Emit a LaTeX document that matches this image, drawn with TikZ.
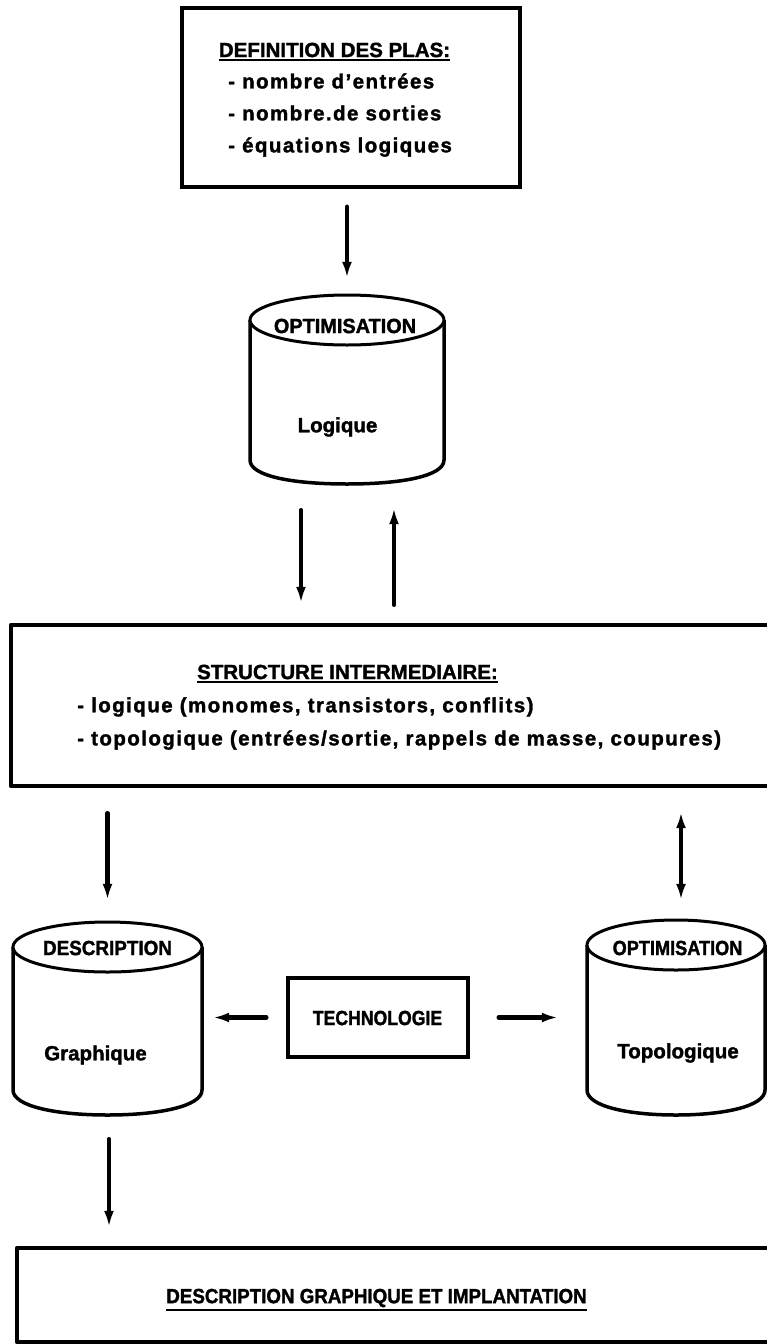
\documentclass[tikz,border=0pt]{standalone}
\usepackage{fontspec}
\setmainfont{Liberation Sans}[BoldFeatures={FakeBold=1.6}]
\newfontfamily\lsp{Liberation Sans}[LetterSpace=7,BoldFeatures={FakeBold=1.6}]
\usetikzlibrary{arrows.meta,calc}
\newcommand\hsc[2]{\scalebox{#1}[1]{#2}}
\begin{document}
\begin{tikzpicture}[x=1pt,y=-1pt,
  every node/.style={font=\fontsize{20.5}{24}\selectfont\bfseries, inner sep=0pt},
  listline/.style={anchor=west, font=\fontsize{20.5}{24}\selectfont\lsp\bfseries},
  boxst/.style={draw, line width=3.5pt},
  boxline/.style={line width=3.5pt, line join=round},
  hidden/.style={draw=none},
  cylline/.style={line width=3.5pt, line join=round},
  ellst/.style={line width=3pt, fill=white},
  uline/.style={line width=2pt},
  arr/.style={line width=4.5pt, line cap=round, -{Latex[length=16pt,width=10pt]}},
  darr/.style={line width=4.5pt, {Latex[length=16pt,width=10pt]}-{Latex[length=16pt,width=10pt]}}]
\useasboundingbox[fill=white] (0,0) rectangle (767,1344);

% ---- top box
\node[boxst, minimum width=338pt, minimum height=179pt] (top) at (351,97.5) {};
\node (t1) at (334.5,50) {DEFINITION DES PLAS:};
\draw[uline] ([yshift=-2.5pt]t1.south west) -- ([yshift=-2.5pt]t1.south east);
\node[listline] (t2) at (228,81) {- nombre d’entrées};
\node[listline] (t3) at (228,113) {- nombre.de sorties};
\node[listline] (t4) at (228,147) {- équations logiques};

% ---- cylinder 1
\node[hidden, minimum width=194pt, minimum height=189pt] (cyl1) at (347,389.5) {};
\draw[cylline] (250,320) -- (250,460) .. controls (250,476) and (292,484) .. (347,484)
  .. controls (402,484) and (444,476) .. (444,460) -- (444,320);
\draw[ellst] (347,320) ellipse [x radius=97pt, y radius=25pt];
\node (c1a) at (345,326) {\hsc{0.97}{OPTIMISATION}};
\node (c1b) at (337.5,427) {Logique};

% ---- structure box
\node[hidden, minimum width=756pt, minimum height=161pt] (struct) at (389,705.5) {};
\draw[boxline] (struct.north east) -- (struct.north west) -- (struct.south west) -- (struct.south east);
\node (s1) at (347.5,672) {STRUCTURE INTERMEDIAIRE:};
\draw[uline] ([yshift=-2.5pt]s1.south west) -- ([yshift=-2.5pt]s1.south east);
\node[listline] (s2) at (77,707) {- logique (monomes, transistors, conflits)};
\node[listline] (s3) at (77,740) {- topologique (entrées/sortie, rappels de masse, coupures)};

% ---- cylinder 2
\node[hidden, minimum width=189pt, minimum height=193pt] (cyl2) at (107.5,1018.5) {};
\draw[cylline] (13,947) -- (13,1090) .. controls (13,1106) and (55,1115) .. (107.5,1115)
  .. controls (160,1115) and (202,1106) .. (202,1090) -- (202,947);
\draw[ellst] (107.5,947) ellipse [x radius=94.5pt, y radius=25pt];
\node (c2a) at (107.5,948) {\hsc{0.92}{DESCRIPTION}};
\node (c2b) at (95.5,1055) {Graphique};

% ---- cylinder 3
\node[hidden, minimum width=178pt, minimum height=195pt] (cyl3) at (676,1017.5) {};
\draw[cylline] (587,945) -- (587,1090) .. controls (587,1106) and (627,1115) .. (676,1115)
  .. controls (725,1115) and (765,1106) .. (765,1090) -- (765,945);
\draw[ellst] (676,945) ellipse [x radius=89pt, y radius=25pt];
\node (c3a) at (677.5,948) {\hsc{0.885}{OPTIMISATION}};
\node (c3b) at (678,1053) {Topologique};

% ---- technologie
\node[boxst, minimum width=180pt, minimum height=79pt] (tech) at (378,1017.5) {};
\node (tt) at (377.5,1018) {\hsc{0.86}{TECHNOLOGIE}};

% ---- bottom box
\node[hidden, minimum width=750pt, minimum height=94pt] (bot) at (392,1295) {};
\draw[boxline] (bot.north east) -- (bot.north west) -- (bot.south west) -- (bot.south east);
\node (b1) at (376.5,1298) {\hsc{0.915}{DESCRIPTION GRAPHIQUE ET IMPLANTATION}};
\draw[uline] ([yshift=-2.5pt]b1.south west) -- ([yshift=-2.5pt]b1.south east);

% ---- connectors
\draw[arr, shorten <=18pt, shorten >=17pt] (top.south -| cyl1.north) -- (cyl1.north);
\draw[arr, shorten <=26pt, shorten >=22pt] ([xshift=-46pt]cyl1.south) -- ([xshift=-46pt]cyl1.south |- struct.north);
\draw[arr, shorten <=20pt, shorten >=24pt] ([xshift=47pt]cyl1.south |- struct.north) -- ([xshift=47pt]cyl1.south);
\draw[arr, shorten <=27pt, shorten >=22pt] (struct.south -| cyl2.north) -- (cyl2.north);
\draw[darr, shorten <=26pt, shorten >=20pt] ([xshift=5pt]struct.south -| cyl3.north) -- ([xshift=5pt]cyl3.north);
\draw[arr, shorten <=20pt, shorten >=11pt] (tech.west) -- (tech.west -| cyl2.east);
\draw[arr, shorten <=29pt, shorten >=29pt] (tech.east) -- (tech.east -| cyl3.west);
\draw[arr, shorten <=24pt, shorten >=21pt] ([xshift=1.5pt]cyl2.south) -- ([xshift=1.5pt]cyl2.south |- bot.north);
\end{tikzpicture}
\end{document}
